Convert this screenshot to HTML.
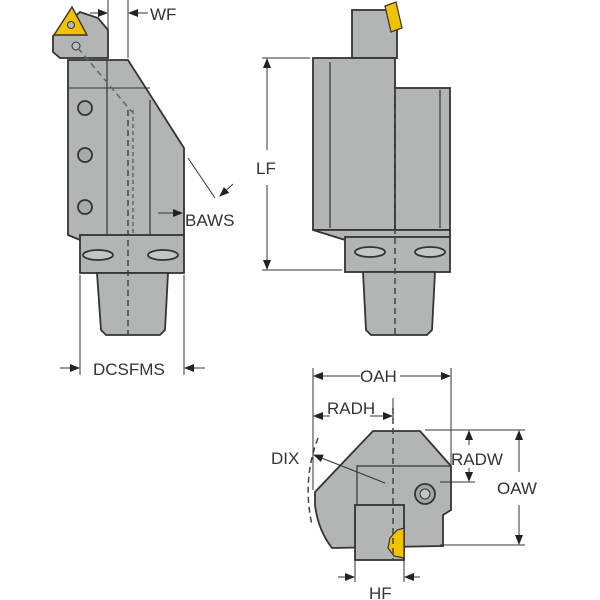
<!DOCTYPE html>
<html><head><meta charset="utf-8"><style>
html,body{margin:0;padding:0;background:#fff}
svg{display:block}
text{font-family:"Liberation Sans",sans-serif;font-size:17px;fill:#333;font-stretch:condensed}
</style></head><body>
<svg width="600" height="600" viewBox="0 0 600 600" xmlns="http://www.w3.org/2000/svg">
<defs>
<marker id="a" markerWidth="10" markerHeight="8" refX="9" refY="4" orient="auto" markerUnits="userSpaceOnUse"><path d="M0,0 L10,4 L0,8 z" fill="#222"/></marker>
</defs>
<g stroke="#333" stroke-width="1.8" fill="#b3b5b4">
<!-- LEFT VIEW -->
<polygon points="53,36 53,52 60,58 108,58 108,30 98,18 80,12"/>
<polygon points="68,60 128,60 184,148 184,235 80,240 68,235"/>
<line x1="68" y1="88" x2="150" y2="88" stroke-width="1"/>
<line x1="107" y1="60" x2="107" y2="235" stroke-width="1.2"/>
<line x1="150" y1="100" x2="150" y2="235" stroke-width="1.2"/>
<circle cx="85" cy="108" r="7" fill="#a9abaa"/>
<circle cx="85" cy="155" r="7" fill="#a9abaa"/>
<circle cx="85" cy="207" r="7" fill="#a9abaa"/>
<rect x="80" y="235" width="104" height="38"/>
<ellipse cx="98" cy="255" rx="15" ry="5" fill="#c4c6c5"/>
<ellipse cx="163" cy="255" rx="15" ry="5" fill="#c4c6c5"/>
<polygon points="97,273 168,273 165,330 160,335 106,335 101,330"/>
<polygon points="72,7 87,35 54,35" fill="#f2c200" stroke="#333" stroke-width="1.4"/>
<circle cx="71" cy="25" r="3.5" fill="#b3b5b4" stroke-width="1"/>
<circle cx="76" cy="46" r="4" fill="#b8bcc8" stroke-width="1"/>
<!-- RIGHT VIEW -->
<rect x="352" y="10" width="45" height="48"/>
<rect x="313" y="58" width="82" height="172"/>
<rect x="395" y="88" width="55" height="142"/>
<line x1="330" y1="62" x2="330" y2="228" stroke-width="1.2"/>
<line x1="440" y1="90" x2="440" y2="228" stroke-width="1.2"/>
<polygon points="313,230 450,230 450,237 345,240"/>
<rect x="345" y="237" width="105" height="35"/>
<ellipse cx="370" cy="252" rx="15" ry="5" fill="#c4c6c5"/>
<ellipse cx="430" cy="252" rx="15" ry="5" fill="#c4c6c5"/>
<polygon points="363,272 435,272 432,330 427,335 371,335 366,330"/>
<polygon points="385,6 396,2 402,28 391,32" fill="#f2c200" stroke-width="1.2"/>
<!-- BOTTOM VIEW -->
<path d="M373,431 L420,431 L451,466 L451,510 L443,515 L443,546 L332,548 Q318,530 315,505 L315,492 Z"/>
<polyline points="357,548 357,466 451,466" fill="none" stroke-width="1.2"/>
<rect x="355" y="505" width="49" height="55"/>
<circle cx="425" cy="494" r="10" fill="#a5a7a6"/>
<circle cx="425" cy="494" r="5" fill="#c4c6c5" stroke-width="1"/>
<polygon points="390,538 397,530 404,528 404,558 394,556 388,548" fill="#f2c200" stroke-width="1.2"/>
</g>
<!-- centerlines -->
<g stroke="#444" stroke-width="1.5" stroke-dasharray="6,4" fill="none">
<line x1="128" y1="110" x2="128" y2="335"/>
<line x1="133" y1="110" x2="133" y2="235" stroke-dasharray="4,3" stroke="#666"/>
<line x1="78" y1="48" x2="132" y2="112" stroke="#666"/>
<line x1="395" y1="88" x2="395" y2="335"/>
<line x1="393" y1="408" x2="393" y2="560"/>
<path d="M318,438 Q302,480 312,525"/>
</g>
<!-- dimension lines -->
<g stroke="#333" stroke-width="1" fill="none">
<line x1="108" y1="0" x2="108" y2="58"/>
<line x1="128" y1="0" x2="128" y2="58"/>
<line x1="90" y1="13" x2="107" y2="13" marker-end="url(#a)"/>
<line x1="148" y1="13" x2="129" y2="13" marker-end="url(#a)"/>
<line x1="188" y1="158" x2="215" y2="198"/>
<line x1="233" y1="184" x2="220" y2="196" marker-end="url(#a)"/>
<line x1="158" y1="213" x2="182" y2="213" marker-end="url(#a)"/>
<line x1="80" y1="275" x2="80" y2="375"/>
<line x1="184" y1="275" x2="184" y2="375"/>
<line x1="60" y1="368" x2="79" y2="368" marker-end="url(#a)"/>
<line x1="205" y1="368" x2="185" y2="368" marker-end="url(#a)"/>
<line x1="262" y1="58" x2="310" y2="58"/>
<line x1="262" y1="270" x2="342" y2="270"/>
<line x1="267" y1="150" x2="267" y2="59" marker-end="url(#a)"/>
<line x1="267" y1="185" x2="267" y2="269" marker-end="url(#a)"/>
<line x1="313" y1="368" x2="313" y2="490"/>
<line x1="451" y1="368" x2="451" y2="466"/>
<line x1="360" y1="376" x2="314" y2="376" marker-end="url(#a)"/>
<line x1="400" y1="376" x2="450" y2="376" marker-end="url(#a)"/>
<line x1="393" y1="398" x2="393" y2="420"/>
<line x1="330" y1="416" x2="314" y2="416" marker-end="url(#a)"/>
<line x1="370" y1="416" x2="392" y2="416" marker-end="url(#a)"/>
<line x1="425" y1="430" x2="525" y2="430"/>
<line x1="440" y1="545" x2="525" y2="545"/>
<line x1="440" y1="482" x2="475" y2="482"/>
<line x1="469" y1="445" x2="469" y2="431" marker-end="url(#a)"/>
<line x1="469" y1="468" x2="469" y2="481" marker-end="url(#a)"/>
<line x1="519" y1="472" x2="519" y2="431" marker-end="url(#a)"/>
<line x1="519" y1="505" x2="519" y2="544" marker-end="url(#a)"/>
<line x1="385" y1="483" x2="314" y2="455" marker-end="url(#a)"/>
<line x1="355" y1="560" x2="355" y2="582"/>
<line x1="404" y1="560" x2="404" y2="582"/>
<line x1="338" y1="577" x2="354" y2="577" marker-end="url(#a)"/>
<line x1="420" y1="577" x2="405" y2="577" marker-end="url(#a)"/>
</g>
<text x="150" y="20">WF</text>
<text x="185" y="226">BAWS</text>
<text x="93" y="375">DCSFMS</text>
<text x="256" y="174">LF</text>
<text x="360" y="382">OAH</text>
<text x="327" y="414">RADH</text>
<text x="271" y="464">DIX</text>
<text x="451" y="465">RADW</text>
<text x="497" y="494">OAW</text>
<text x="369" y="599">HF</text>
</svg>
</body></html>
